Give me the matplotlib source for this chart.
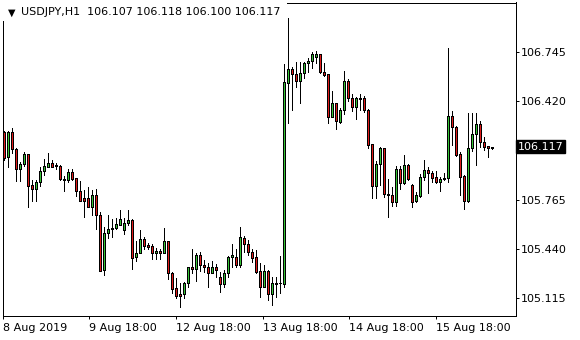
"""USDJPY H1 candlestick chart in the MetaTrader look."""
import matplotlib

matplotlib.use("Agg")
import matplotlib.pyplot as plt
from matplotlib.patches import Rectangle
import numpy as np

symbol_title = "USDJPY,H1  106.107 106.118 106.100 106.117"

opens = [
    106.215, 106.049, 106.215, 106.102, 105.970, 106.001, 106.067, 105.861, 105.839, 105.881,
    105.954, 105.985, 106.009, 105.994, 105.989, 105.905, 105.894, 105.950, 105.908, 105.825,
    105.779, 105.777, 105.719, 105.795, 105.662, 105.299, 105.542, 105.569, 105.576, 105.600,
    105.564, 105.613, 105.631, 105.387, 105.410, 105.503, 105.463, 105.456, 105.410, 105.425,
    105.410, 105.489, 105.277, 105.177, 105.137, 105.137, 105.210, 105.317, 105.303, 105.396,
    105.330, 105.317, 105.277, 105.317, 105.254, 105.208, 105.277, 105.383, 105.387, 105.332,
    105.509, 105.471, 105.420, 105.383, 105.290, 105.188, 105.294, 105.137, 105.214, 105.212,
    105.206, 106.539, 106.632, 106.600, 106.556, 106.605, 106.676, 106.687, 106.715, 106.731,
    106.612, 106.599, 106.317, 106.406, 106.284, 106.361, 106.554, 106.439, 106.383, 106.439,
    106.439, 106.361, 106.134, 105.859, 106.001, 106.107, 105.803, 105.795, 105.752, 105.970,
    105.879, 105.994, 105.861, 105.759, 105.790, 105.914, 105.963, 105.941, 105.918, 105.885,
    105.901, 105.908, 106.322, 106.246, 106.069, 105.923, 105.759, 106.107, 106.200, 106.266,
    106.147, 106.122, 106.107,
]
highs = [
    106.222, 106.222, 106.242, 106.109, 106.018, 106.080, 106.069, 105.894, 105.896, 105.985,
    106.034, 106.078, 106.029, 106.007, 105.994, 105.925, 105.968, 105.968, 105.910, 105.892,
    105.830, 105.848, 105.830, 105.837, 105.686, 105.586, 105.664, 105.637, 105.646, 105.697,
    105.646, 105.697, 105.637, 105.491, 105.564, 105.516, 105.476, 105.471, 105.443, 105.438,
    105.576, 105.491, 105.287, 105.243, 105.210, 105.221, 105.321, 105.436, 105.414, 105.420,
    105.365, 105.343, 105.358, 105.337, 105.287, 105.299, 105.394, 105.471, 105.436, 105.582,
    105.527, 105.498, 105.440, 105.432, 105.343, 105.332, 105.299, 105.254, 105.254, 105.392,
    106.667, 106.970, 106.649, 106.682, 106.682, 106.682, 106.709, 106.749, 106.753, 106.733,
    106.672, 106.600, 106.488, 106.408, 106.377, 106.620, 106.567, 106.468, 106.446, 106.468,
    106.454, 106.365, 106.136, 106.023, 106.118, 106.109, 105.903, 105.852, 105.989, 105.989,
    106.063, 106.003, 105.868, 105.819, 105.934, 106.029, 105.981, 105.958, 105.956, 105.918,
    105.941, 106.771, 106.355, 106.255, 106.084, 105.930, 106.343, 106.339, 106.339, 106.288,
    106.184, 106.122, 106.118,
]
lows = [
    106.029, 105.983, 106.076, 105.890, 105.892, 105.989, 105.719, 105.759, 105.759, 105.859,
    105.930, 105.981, 105.981, 105.968, 105.896, 105.825, 105.881, 105.896, 105.792, 105.757,
    105.653, 105.717, 105.664, 105.569, 105.292, 105.267, 105.509, 105.520, 105.571, 105.598,
    105.538, 105.598, 105.307, 105.360, 105.408, 105.440, 105.438, 105.374, 105.374, 105.374,
    105.408, 105.237, 105.144, 105.115, 105.051, 105.115, 105.188, 105.277, 105.228, 105.290,
    105.287, 105.184, 105.276, 105.254, 105.155, 105.188, 105.250, 105.321, 105.321, 105.321,
    105.420, 105.398, 105.354, 105.277, 105.121, 105.186, 105.099, 105.064, 105.117, 105.144,
    105.188, 106.273, 106.361, 106.512, 106.406, 106.572, 106.616, 106.638, 106.672, 106.605,
    106.589, 106.277, 106.315, 106.233, 106.277, 106.335, 106.421, 106.355, 106.300, 106.361,
    106.350, 106.107, 105.775, 105.775, 105.863, 105.782, 105.653, 105.724, 105.724, 105.835,
    105.870, 105.896, 105.719, 105.752, 105.786, 105.896, 105.812, 105.885, 105.879, 105.825,
    105.896, 105.885, 106.129, 106.058, 105.797, 105.702, 105.748, 106.091, 105.996, 106.118,
    106.096, 106.051, 106.100,
]
closes = [
    106.043, 106.215, 106.102, 105.970, 106.003, 106.071, 105.859, 105.839, 105.885, 105.956,
    105.987, 106.009, 105.985, 105.991, 105.905, 105.894, 105.950, 105.901, 105.825, 105.759,
    105.759, 105.719, 105.795, 105.662, 105.294, 105.542, 105.571, 105.580, 105.602, 105.637,
    105.613, 105.631, 105.380, 105.410, 105.503, 105.460, 105.451, 105.410, 105.425, 105.410,
    105.489, 105.277, 105.170, 105.126, 105.126, 105.210, 105.317, 105.303, 105.396, 105.330,
    105.317, 105.277, 105.317, 105.299, 105.208, 105.277, 105.383, 105.396, 105.332, 105.516,
    105.469, 105.420, 105.380, 105.287, 105.188, 105.294, 105.137, 105.214, 105.208, 105.210,
    106.547, 106.632, 106.600, 106.556, 106.605, 106.676, 106.687, 106.733, 106.731, 106.612,
    106.596, 106.317, 106.406, 106.288, 106.361, 106.554, 106.439, 106.383, 106.439, 106.436,
    106.361, 106.129, 105.859, 106.001, 106.111, 105.803, 105.795, 105.752, 105.970, 105.879,
    105.994, 105.905, 105.752, 105.797, 105.914, 105.963, 105.941, 105.912, 105.885, 105.903,
    105.912, 106.322, 106.246, 106.063, 105.918, 105.759, 106.107, 106.200, 106.266, 106.147,
    106.118, 106.107, 106.117,
]

time_ticks = [-0.2, 21.45, 43.1, 64.8, 86.45, 108.1]
time_labels = ["8 Aug 2019", "9 Aug 18:00", "12 Aug 18:00", "13 Aug 18:00",
               "14 Aug 18:00", "15 Aug 18:00"]
price_ticks = [105.115, 105.440, 105.765, 106.092, 106.420, 106.745]
last_price = 106.117

W, H = 580, 340
BULL = "#36c436"
BEAR = "#e01b1b"


def main():
    fig = plt.figure(figsize=(W / 100, H / 100), dpi=100)
    fig.patch.set_facecolor("white")
    # plot frame in pixels: x 2.5..516, y 2.5..315.5
    ax = fig.add_axes([2.5 / W, (H - 315.5) / H, (516 - 2.5) / W, (315.5 - 2.5) / H])
    px = 0.72  # one pixel in points

    o = np.array(opens)
    hi = np.array(highs)
    lo = np.array(lows)
    c = np.array(closes)
    x = np.arange(len(o))

    ax.vlines(x, lo, hi, color="black", linewidth=px, antialiased=False, zorder=2)
    colors = [BULL if cc >= oo else BEAR for oo, cc in zip(o, c)]
    ax.bar(x, np.abs(c - o), bottom=np.minimum(o, c), width=0.5, color=colors,
           edgecolor="black", linewidth=px, antialiased=False, zorder=3)

    ax.set_xlim(-0.25, 128.125)
    ax.set_ylim(104.996, 107.075)

    for s in ax.spines.values():
        s.set_linewidth(px)
        s.set_color("black")

    ax.yaxis.tick_right()
    ax.set_yticks(price_ticks)
    ax.set_yticklabels([f"{p:.3f}" for p in price_ticks])
    ax.set_xticks(time_ticks)
    ax.set_xticklabels(time_labels, ha="left")
    ax.tick_params(axis="y", direction="out", length=2.2, width=px, pad=1.5, labelsize=8)
    ax.tick_params(axis="x", direction="out", length=2.2, width=px, pad=3, labelsize=8)

    # current price marker on the price scale (covers the 106.09x label, as in the terminal)
    ax.text(1.004, last_price, "106.117", transform=ax.get_yaxis_transform(),
            ha="left", va="center", fontsize=8, color="white", zorder=5,
            bbox=dict(boxstyle="square,pad=0.15", fc="black", ec="black"))

    # title label with white background over the frame
    fig.patches.append(Rectangle((0, 1 - 21 / H), 287 / W, 21 / H, transform=fig.transFigure,
                                 facecolor="white", edgecolor="none", zorder=10))
    fig.text(11.5 / W, 1 - 12.5 / H, "\u25bc", fontsize=7, ha="center", va="center", zorder=11)
    fig.text(21 / W, 1 - 12.3 / H, symbol_title, fontsize=8, ha="left", va="center", zorder=11)

    fig.savefig("out.png", dpi=100)
    plt.close(fig)


if __name__ == "__main__":
    main()
